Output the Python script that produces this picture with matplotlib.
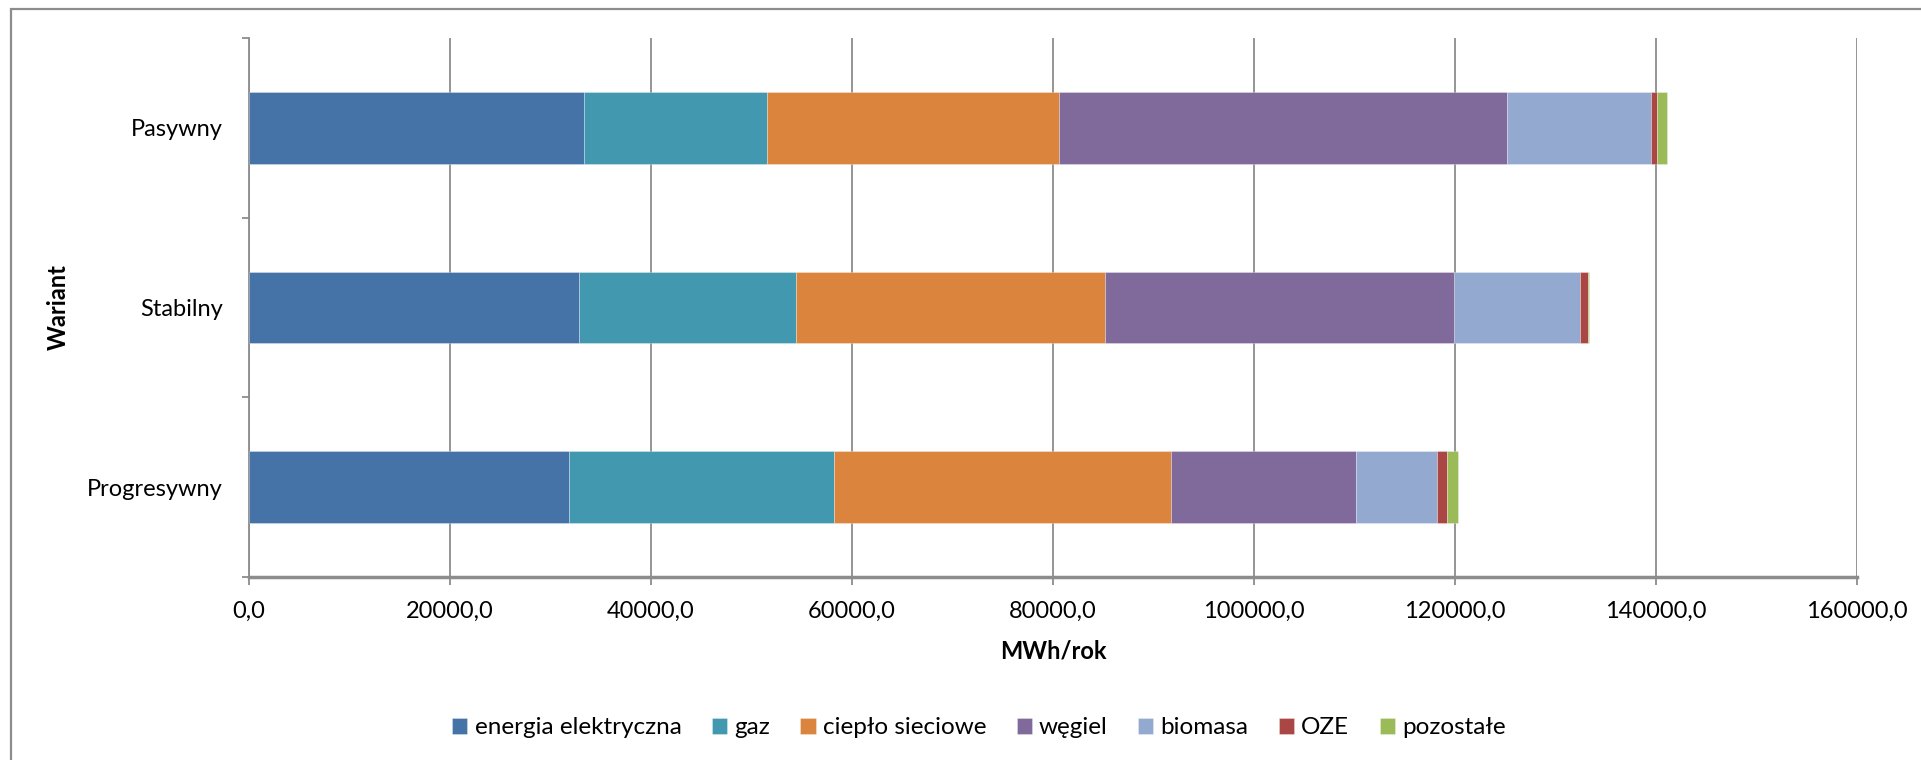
import matplotlib
matplotlib.use("Agg")
import matplotlib.pyplot as plt
import numpy as np
from matplotlib.patches import Rectangle
from matplotlib.ticker import FuncFormatter

warianty = ["Progresywny", "Stabilny", "Pasywny"]
nosniki = ["energia elektryczna", "gaz", "ciepło sieciowe", "węgiel",
           "biomasa", "OZE", "pozostałe"]

# MWh/rok, order follows `warianty`
energia_elektryczna = [31810, 32840, 33300]
gaz = [26400, 21550, 18290]
cieplo_sieciowe = [33540, 30740, 28970]
wegiel = [18400, 34810, 44630]
biomasa = [8060, 12510, 14300]
oze = [1000, 830, 630]
pozostale = [1040, 100, 930]

kolory = ["#4572A7", "#4198AF", "#DB843D", "#80699B",
          "#93A9CF", "#AA4643", "#9BBB59"]

serie = [energia_elektryczna, gaz, cieplo_sieciowe, wegiel,
         biomasa, oze, pozostale]

plt.rcParams["font.family"] = ["Lato", "DejaVu Sans"]
grid_color = "#8C8C8C"

fig = plt.figure(figsize=(19.21, 7.6), dpi=100)
ax = fig.add_axes([249 / 1921, 1 - 577 / 760, (1857 - 249) / 1921, (577 - 38) / 760])

# outer chart frame (left and top edges are inside the image)
fig.patches.append(Rectangle((11 / 1921, -0.1), 1.2, 1 - 9 / 760 + 0.1,
                             transform=fig.transFigure, fill=False,
                             edgecolor="#8C8C8C", linewidth=1.6))

y = np.arange(len(warianty))
left = np.zeros(len(warianty))
for name, vals, col in zip(nosniki, serie, kolory):
    ax.barh(y, vals, left=left, height=0.4, color=col, label=name,
            edgecolor=(1, 1, 1, 0.35), linewidth=0.6, zorder=3)
    left += np.array(vals)

ax.set_xlim(0, 160000)
ax.set_ylim(-0.5, 2.5)
ax.set_xticks(np.arange(0, 160001, 20000))
ax.xaxis.set_major_formatter(FuncFormatter(lambda v, p: f"{v:.1f}".replace(".", ",")))
ax.set_yticks(y)
ax.set_yticklabels(warianty)
ax.set_yticks([-0.5, 0.5, 1.5, 2.5], minor=True)

ax.grid(axis="x", color=grid_color, linewidth=1.3, zorder=0)
for s in ["top", "right"]:
    ax.spines[s].set_visible(False)
ax.spines["left"].set_color(grid_color)
ax.spines["left"].set_linewidth(1.3)
ax.spines["bottom"].set_color(grid_color)
ax.spines["bottom"].set_linewidth(2.5)

ax.tick_params(axis="x", which="major", length=6, width=1.3, color=grid_color,
               labelsize=17, pad=11)
ax.tick_params(axis="y", which="major", length=0, labelsize=17, pad=19)
ax.tick_params(axis="y", which="minor", length=5, width=1.3, color=grid_color)

ax.set_xlabel("MWh/rok", fontsize=17, fontweight="bold", labelpad=13)
ax.set_ylabel("Wariant", fontsize=17, fontweight="bold", labelpad=12)

fig.legend(loc="center", bbox_to_anchor=(979 / 1921, 1 - 728 / 760), ncol=7,
           frameon=False, fontsize=17.5, handlelength=0.62, handleheight=0.62,
           handletextpad=0.3, columnspacing=1.25)

fig.savefig("out.png", dpi=100)
